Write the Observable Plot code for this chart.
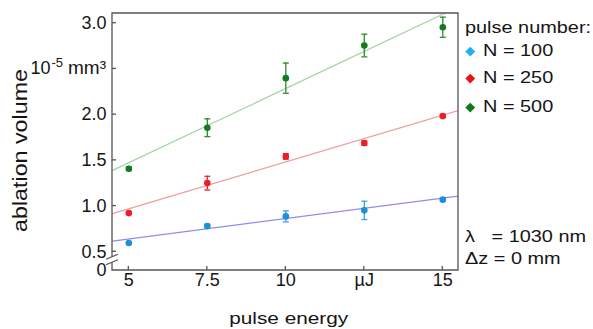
<!DOCTYPE html>
<html><head><meta charset="utf-8">
<script src="https://cdn.jsdelivr.net/npm/d3@7"></script>
<script src="https://cdn.jsdelivr.net/npm/@observablehq/plot@0.6"></script>
<style>
body{margin:0;background:#fff;}
#wrap{position:relative;width:593px;height:329px;font-family:"Liberation Sans",Arial,sans-serif;color:#151515;}
#wrap svg{display:block;}
.lg{position:absolute;font-size:17px;line-height:20px;white-space:pre;transform:scaleX(1.17);transform-origin:0 0;}
.dm{position:absolute;width:6.5px;height:6.5px;transform:rotate(45deg);}
</style></head><body><div id="wrap"></div>
<script>
// ---- data ----
const energies = [5, 7.5, 10, 12.5, 15];
const xTickLabels = ["5", "7.5", "10", "µJ", "15"];
const seriesNames = ["N = 100", "N = 250", "N = 500"];
const vol100 = [0.596, 0.781, 0.887, 0.953, 1.07];
const err100 = [0.01, 0.02, 0.06, 0.10, 0.015];
const vol250 = [0.923, 1.251, 1.543, 1.689, 1.984];
const err250 = [0.015, 0.075, 0.03, 0.025, 0.015];
const vol500 = [1.409, 1.857, 2.399, 2.756, 2.956];
const err500 = [0.02, 0.097, 0.165, 0.124, 0.11];
const fitEnergy = [4.48, 15.5];
const fit100 = [0.617, 1.109];
const fit250 = [0.917, 2.046];
const fit500 = [1.39, 3.18];
const yTicks = [0, 0.5, 1, 1.5, 2, 2.5, 3];
const yTickLabels = ["0", "0.5", "1.0", "1.5", "2.0", "", "3.0"];
const unitTick = 2.5, unitBase = "10", unitExp = "-5", unitRest = "mm³";
const breakValues = [0.38, 0.44];
const legendTitle = "pulse number:";
const noteLines = ["λ   = 1030 nm", "Δz = 0 mm"];
const xLabel = "pulse energy", yLabel = "ablation volume";

// ---- styles ----
const pointColors = ["#1e8fd6", "#ee1c24", "#137a1f"];
const errColors = ["#3aa6e0", "#e8262b", "#2a8a2a"];
const lineColors = ["#8c8cf2", "#f29a9a", "#a2d6a2"];
const legendColors = ["#1fb0ee", "#ee1111", "#107a10"];

const vols = [vol100, vol250, vol500], errs = [err100, err250, err500], fits = [fit100, fit250, fit500];
const points = seriesNames.flatMap((s, i) => energies.map((e, j) => ({series: s, i, e, v: vols[i][j], err: errs[i][j]})));
const fitRows = seriesNames.flatMap((s, i) => fitEnergy.map((e, j) => ({series: s, i, e, v: fits[i][j]})));

const capSymbol = {draw(ctx, size) { const h = Math.sqrt(size / Math.PI); ctx.moveTo(-h, 0); ctx.lineTo(h, 0); }};

function frameMark(index, scales, values, dims) {
  const {x, y} = scales;
  const l = dims.marginLeft, r = dims.width - dims.marginRight, t = dims.marginTop, b = dims.height - dims.marginBottom;
  const g = d3.create("svg:g").attr("fill", "currentColor");
  const ax = g.append("g").attr("fill", "none").attr("stroke", "#555").attr("stroke-width", 1.3);
  const yb1 = y(breakValues[0]), yb2 = y(breakValues[1]);
  ax.append("path").attr("d", `M${l},${yb1}V${b}H${r}V${t}H${l}V${yb2}`);
  for (const yy of [yb1, yb2]) ax.append("path").attr("d", `M${l - 6},${yy + 2.5}L${l + 6},${yy - 2.5}`);
  for (const v of yTicks) if (v > 0) ax.append("path").attr("d", `M${l},${y(v)}h4`);
  for (const v of energies) ax.append("path").attr("d", `M${x(v)},${b}v-4`);
  // unit tick label
  const tx = g.append("text").attr("x", l - 6).attr("y", y(unitTick)).attr("dy", "0.32em")
    .attr("text-anchor", "end").attr("font-size", 18);
  tx.append("tspan").text(unitBase);
  tx.append("tspan").attr("font-size", 13).attr("dy", -7).attr("dx", 1).text(unitExp);
  tx.append("tspan").attr("dy", 7).attr("dx", 5).attr("font-size", 19).text(unitRest);
  // axis labels (stretched like the reference)
  const xc = (l + r) / 2 + 3.7, xw = 119;
  g.append("text").attr("text-anchor", "start").attr("x", xc - xw / 2).attr("y", b + 54).attr("font-size", 17)
    .attr("textLength", xw).attr("lengthAdjust", "spacingAndGlyphs").text(xLabel);
  const yc = (t + b) / 2 + 9, yw = 163;
  g.append("text").attr("text-anchor", "start").attr("transform", `translate(${l - 84.7},${yc + yw / 2}) rotate(-90)`).attr("font-size", 20)
    .attr("textLength", yw).attr("lengthAdjust", "spacingAndGlyphs").text(yLabel);
  return g.node();
}

const chart = Plot.plot({
  width: 593, height: 329,
  marginLeft: 112, marginRight: 135, marginTop: 13, marginBottom: 59,
  style: {fontFamily: '"Liberation Sans", Arial, sans-serif', color: "#151515", background: "white", overflow: "visible"},
  x: {domain: [4.48, 15.5]},
  y: {type: "linear", domain: [0, 0.35, 3.103], range: [270, 265, 13.3]},
  color: {type: "identity"},
  marks: [
    Plot.line(fitRows, {x: "e", y: "v", z: "series", stroke: d => lineColors[d.i], strokeWidth: 1.2, clip: true}),
    Plot.ruleX(points, {x: "e", y1: d => d.v - d.err, y2: d => d.v + d.err, stroke: d => errColors[d.i], strokeWidth: 1.3}),
    Plot.dot(points, {x: "e", y: d => d.v - d.err, symbol: capSymbol, r: 3, stroke: d => errColors[d.i], strokeWidth: 1.3}),
    Plot.dot(points, {x: "e", y: d => d.v + d.err, symbol: capSymbol, r: 3, stroke: d => errColors[d.i], strokeWidth: 1.3}),
    Plot.dot(points, {x: "e", y: "v", r: 3.3, fill: d => pointColors[d.i]}),
    Plot.axisY({ticks: yTicks, tickFormat: v => yTickLabels[yTicks.indexOf(v)], tickSize: 0, tickPadding: 6, fontSize: 18, label: null}),
    Plot.axisX({ticks: energies, tickFormat: v => xTickLabels[energies.indexOf(v)], tickSize: 0, tickPadding: 3, fontSize: 18, label: null}),
    frameMark
  ]
});

const wrap = document.getElementById("wrap");
wrap.appendChild(chart);

// ---- legend & notes (HTML overlay) ----
function addText(txt, left, baseline) {
  const d = document.createElement("div");
  d.className = "lg"; d.textContent = txt;
  d.style.left = left + "px"; d.style.top = (baseline - 15.9) + "px";
  wrap.appendChild(d);
}
addText(legendTitle, 465, 34.3);
const legendBaselines = [56.7, 84, 112.7];
seriesNames.forEach((s, i) => {
  const m = document.createElement("div");
  m.className = "dm"; m.style.background = legendColors[i];
  m.style.left = (470 - 3.25) + "px"; m.style.top = (legendBaselines[i] - 5.3 - 3.25) + "px";
  wrap.appendChild(m);
  addText(s, 483, legendBaselines[i]);
});
addText(noteLines[0], 465, 243.3);
addText(noteLines[1], 465, 265);
</script></body></html>
